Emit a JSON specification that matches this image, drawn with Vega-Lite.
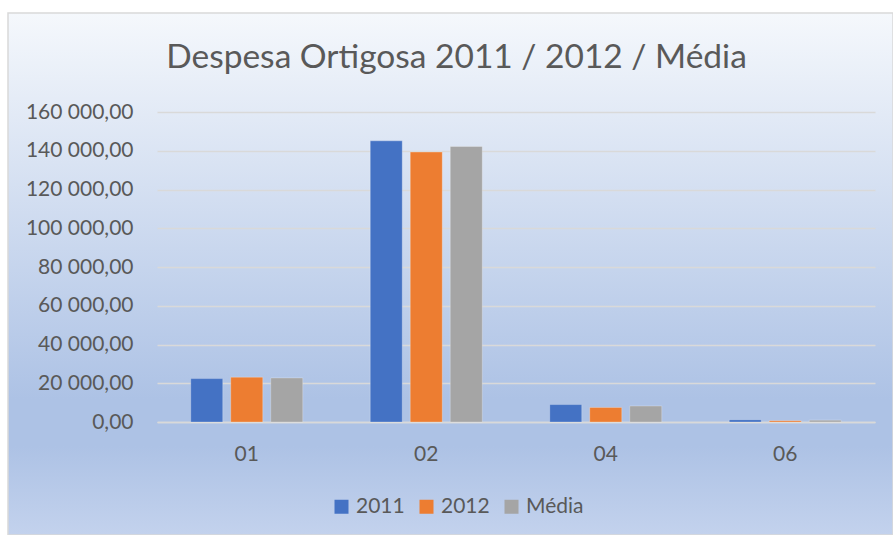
{
  "$schema": "https://vega.github.io/schema/vega-lite/v6.json",
  "width": 885,
  "height": 522,
  "autosize": {"type": "none"},
  "padding": {"left": 8, "top": 13, "right": 0, "bottom": 0},
  "background": "white",
  "view": {
    "stroke": "#d9d9d9",
    "strokeWidth": 1.5,
    "fill": {
      "x1": 0, "y1": 0, "x2": 0, "y2": 1,
      "gradient": "linear",
      "stops": [
        {"offset": 0, "color": "#f5f8fc"},
        {"offset": 0.74, "color": "#adc2e5"},
        {"offset": 0.83, "color": "#adc2e5"},
        {"offset": 1, "color": "#c3d2ed"}
      ]
    }
  },
  "title": {
    "text": "Despesa Ortigosa 2011 / 2012 / Média",
    "font": "Lato",
    "fontSize": 33.5,
    "fontWeight": "normal",
    "color": "#595959",
    "anchor": "middle",
    "baseline": "alphabetic",
    "offset": 0,
    "dx": 6,
    "dy": 88
  },
  "data": {
    "values": [
      {"cat": "01", "serie": "2011", "valor": 22400},
      {"cat": "01", "serie": "2012", "valor": 23100},
      {"cat": "01", "serie": "Média", "valor": 22750},
      {"cat": "02", "serie": "2011", "valor": 145100},
      {"cat": "02", "serie": "2012", "valor": 139300},
      {"cat": "02", "serie": "Média", "valor": 142200},
      {"cat": "04", "serie": "2011", "valor": 9000},
      {"cat": "04", "serie": "2012", "valor": 7500},
      {"cat": "04", "serie": "Média", "valor": 8250},
      {"cat": "06", "serie": "2011", "valor": 1200},
      {"cat": "06", "serie": "2012", "valor": 700},
      {"cat": "06", "serie": "Média", "valor": 950}
    ]
  },
  "mark": {"type": "bar", "stroke": "white", "strokeOpacity": 0.25, "strokeWidth": 1},
  "encoding": {
    "x": {
      "field": "cat",
      "type": "nominal",
      "scale": {"range": [149, 867], "paddingInner": 0.376, "paddingOuter": 0.188},
      "axis": {
        "title": null,
        "labelAngle": 0,
        "ticks": false,
        "domain": true,
        "domainColor": "#d9d9d9",
        "domainWidth": 1.5,
        "offset": -113,
        "labelPadding": 21,
        "labelFont": "Lato",
        "labelFontSize": 21,
        "labelColor": "#595959",
        "grid": false
      }
    },
    "xOffset": {
      "field": "serie",
      "type": "nominal",
      "sort": ["2011", "2012", "Média"],
      "scale": {"paddingInner": 0.2, "paddingOuter": 0}
    },
    "y": {
      "field": "valor",
      "type": "quantitative",
      "scale": {"domain": [0, 160000], "nice": false, "range": [409, 99]},
      "axis": {
        "title": null,
        "values": [0, 20000, 40000, 60000, 80000, 100000, 120000, 140000, 160000],
        "labelExpr": "replace(replace(format(datum.value, ',.2f'), ',', ' '), '.', ',')",
        "ticks": false,
        "domain": false,
        "grid": true,
        "gridColor": "#d9d9d9",
        "gridWidth": 1.5,
        "offset": -149,
        "labelPadding": 24,
        "labelFont": "Lato",
        "labelFontSize": 21,
        "labelColor": "#595959"
      }
    },
    "color": {
      "field": "serie",
      "type": "nominal",
      "scale": {"domain": ["2011", "2012", "Média"], "range": ["#4472c4", "#ed7d31", "#a5a5a5"]},
      "legend": {
        "title": null,
        "orient": "none",
        "legendX": 323,
        "legendY": 483,
        "direction": "horizontal",
        "symbolType": "square",
        "symbolSize": 196,
        "symbolStrokeWidth": 0,
        "labelFont": "Lato",
        "labelFontSize": 21,
        "labelColor": "#595959",
        "labelOffset": 4,
        "columnPadding": 11
      }
    }
  }
}
